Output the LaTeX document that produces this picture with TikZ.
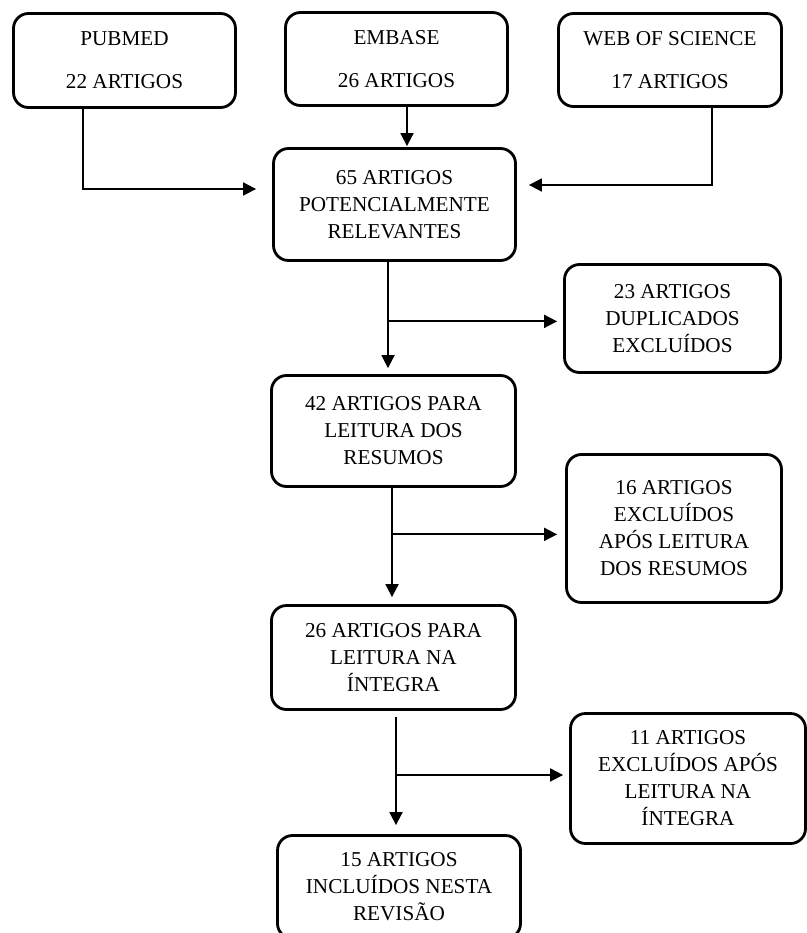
\documentclass[tikz,border=0pt]{standalone}
\usepackage{fontspec}
\setmainfont{Liberation Serif}
\usetikzlibrary{arrows.meta}
\tikzset{
    caixa/.style={draw, line width=2.8pt, rounded corners=15pt, align=center, inner sep=0pt,
        font=\fontsize{21.2}{27}\selectfont},
    seta/.style={line width=1.8pt, -{Triangle[length=13pt,width=13pt]}}
}

\begin{document}
\begin{tikzpicture}[x=1pt,y=-1pt]
    \useasboundingbox (0,0) rectangle (806,933);
    \node (PM) [caixa, minimum width=222pt, minimum height=94pt] at (124.5,60.5) {PUBMED\\[16pt]22 ARTIGOS};
    \node (EM) [caixa, minimum width=222pt, minimum height=93pt] at (396.5,59) {EMBASE\\[16pt]26 ARTIGOS};
    \node (WS) [caixa, minimum width=223pt, minimum height=93pt] at (670,60) {WEB OF SCIENCE\\[16pt]17 ARTIGOS};
    \node (P65) [caixa, minimum width=242pt, minimum height=112pt] at (394.5,204.5) {65 ARTIGOS\\POTENCIALMENTE\\RELEVANTES};
    \node (D23) [caixa, minimum width=216pt, minimum height=108pt] at (672.5,318.5) {23 ARTIGOS\\DUPLICADOS\\EXCLUÍDOS};
    \node (L42) [caixa, minimum width=244pt, minimum height=111pt] at (393.5,431) {42 ARTIGOS PARA\\LEITURA DOS\\RESUMOS};
    \node (E16) [caixa, minimum width=215pt, minimum height=148pt] at (674,528.5) {16 ARTIGOS\\EXCLUÍDOS\\APÓS LEITURA\\DOS RESUMOS};
    \node (L26) [caixa, minimum width=244pt, minimum height=104pt] at (393.5,657.5) {26 ARTIGOS PARA\\LEITURA NA\\ÍNTEGRA};
    \node (E11) [caixa, minimum width=235pt, minimum height=130pt] at (688,778.5) {11 ARTIGOS\\EXCLUÍDOS APÓS\\LEITURA NA\\ÍNTEGRA};
    \node (I15) [caixa, minimum width=243pt, minimum height=103pt] at (399,887) {15 ARTIGOS\\INCLUÍDOS NESTA\\REVISÃO};
    \draw[seta, shorten >=16pt] ([xshift=-41.5pt]PM.south) |- ([yshift=15.5pt]P65.west);
    \draw[seta, shorten >=1pt] ([xshift=10.5pt]EM.south) -- ([xshift=12.5pt]P65.north);
    \draw[seta, shorten >=12pt] ([xshift=42pt]WS.south) |- ([yshift=19.5pt]P65.east);
    \draw[seta, shorten >=6pt] ([xshift=-6.5pt]P65.south) -- coordinate[pos=0.53] (B1) ([xshift=-5.5pt]L42.north);
    \draw[seta, shorten >=6pt] (B1) -- (B1 -| D23.west);
    \draw[seta, shorten >=7pt] ([xshift=-1.5pt]L42.south) -- coordinate[pos=0.4] (B2) ([xshift=-1.5pt]L26.north);
    \draw[seta, shorten >=8pt] (B2) -- (B2 -| E16.west);
    \draw[seta, shorten <=6pt, shorten >=9pt] ([xshift=2.5pt]L26.south) -- coordinate[pos=0.52] (B3) ([xshift=-3pt]I15.north);
    \draw[seta, shorten >=6pt] (B3) -- (B3 -| E11.west);
\end{tikzpicture}
\end{document}
